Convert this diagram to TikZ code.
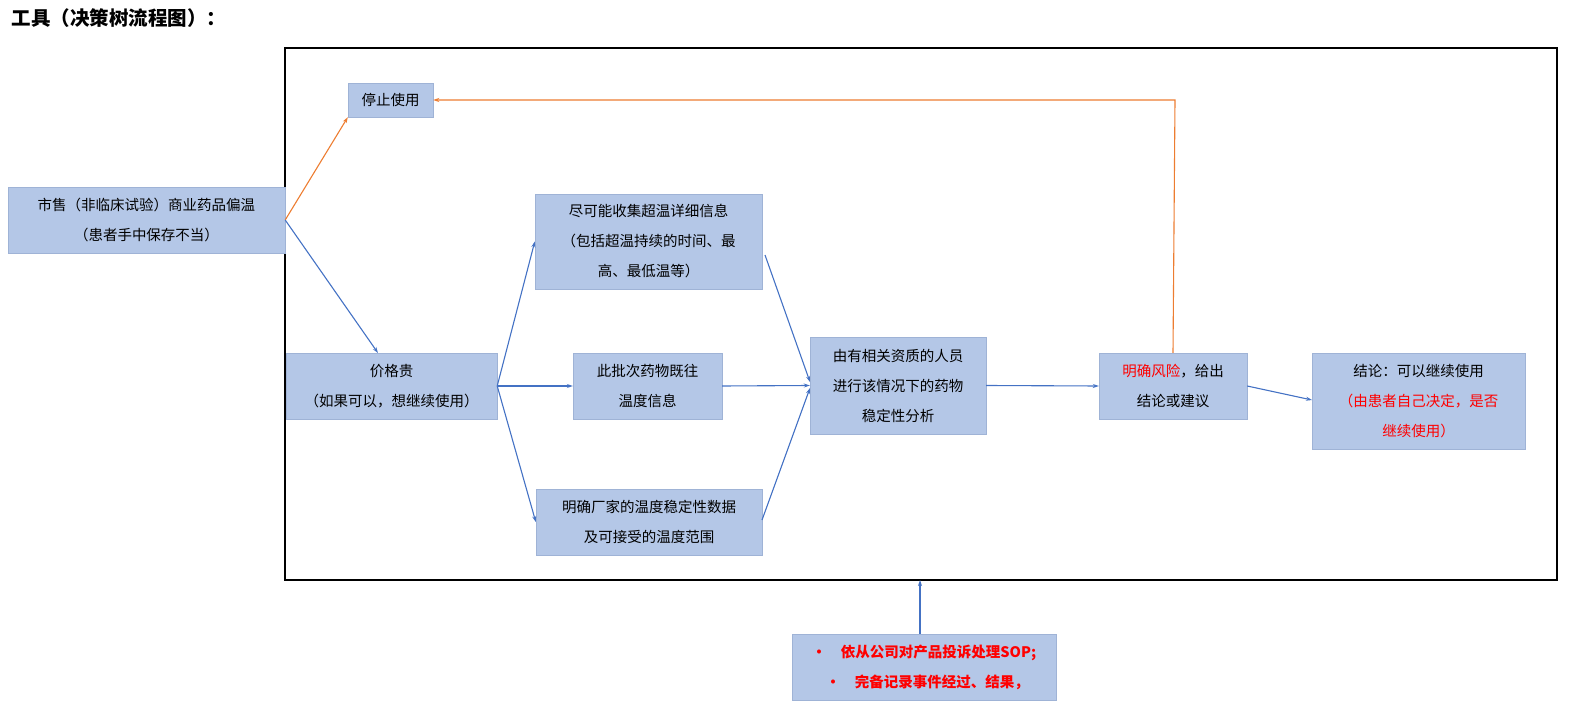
\documentclass[tikz,border=0pt]{standalone}
\usepackage{fontspec}
\setmainfont{Noto Sans CJK SC}
\usetikzlibrary{arrows.meta}
\definecolor{boxfill}{HTML}{B4C7E7}
\definecolor{boxline}{HTML}{9FB3D6}
\definecolor{blueline}{HTML}{4472C4}
\definecolor{orangeline}{HTML}{ED7D31}
\begin{document}
\begin{tikzpicture}[x=1pt,y=-1pt,
  bx/.style={draw=boxline,fill=boxfill,inner sep=0pt,align=center,font=\fontsize{14.5}{30}\selectfont},
  bl/.style={draw=blueline,line width=1.1pt,-{Stealth[length=6pt,width=4pt]}},
  og/.style={draw=orangeline,line width=1.1pt,-{Stealth[length=6pt,width=4pt]}}]
\useasboundingbox (0,0) rectangle (1575,703);
\node[anchor=west,font=\fontsize{19.5}{22}\selectfont\bfseries] (title) at (8,18) {工具（决策树流程图）：};
\draw[line width=1.2pt] (285,48) rectangle (1557,580);
\node[bx,minimum width=85pt,minimum height=34pt] (stop) at (390.5,100) {停止使用};
\node[bx,minimum width=277pt,minimum height=66pt] (src) at (146.5,220) {市售（非临床试验）商业药品偏温\\（患者手中保存不当）};
\node[bx,minimum width=211pt,minimum height=66pt] (price) at (391.5,386) {价格贵\\（如果可以，想继续使用）};
\node[bx,minimum width=227pt,minimum height=95pt] (collect) at (648.5,241.5) {尽可能收集超温详细信息\\（包括超温持续的时间、最\\高、最低温等）};
\node[bx,minimum width=149pt,minimum height=66pt] (hist) at (647.5,386) {此批次药物既往\\温度信息};
\node[bx,minimum width=226pt,minimum height=66pt] (mfr) at (649,522) {明确厂家的温度稳定性数据\\及可接受的温度范围};
\node[bx,minimum width=176pt,minimum height=97pt] (ana) at (898,385.5) {由有相关资质的人员\\进行该情况下的药物\\稳定性分析};
\node[bx,minimum width=148pt,minimum height=66pt] (risk) at (1173,386) {\textcolor{red}{明确风险}，给出\\结论或建议};
\node[bx,minimum width=213pt,minimum height=96pt] (conc) at (1418.5,401) {结论：可以继续使用\\\textcolor{red}{（由患者自己决定，是否}\\\textcolor{red}{继续使用）}};
\node[bx,minimum width=264pt,minimum height=66pt,text=red,font=\fontsize{14.5}{30}\selectfont\bfseries] (sop) at (924,667) {•\quad 依从公司对产品投诉处理SOP;\\\ \ •\quad 完备记录事件经过、结果，};
\coordinate (fb) at (920,580);
\draw[og] (src.east) -- (stop.south west);
\draw[bl] (src.east) -- (378,353);
\draw[bl] (price.east) -- (collect.west);
\draw[bl] (price.east) -- (hist.west);
\draw[bl] (price.east) -- (mfr.west);
\draw[bl] (765,255) -- (810,382);
\draw[bl] (hist.east) -- (ana.west);
\draw[bl] (762,520) -- (810,388);
\draw[bl] (ana.east) -- (risk.west);
\draw[bl] (risk.east) -- (1312,400);
\draw[og] (risk.north) -- (1175,100) -- (stop.east);
\draw[bl] (sop.north -| fb) -- (fb);
\end{tikzpicture}
\end{document}
